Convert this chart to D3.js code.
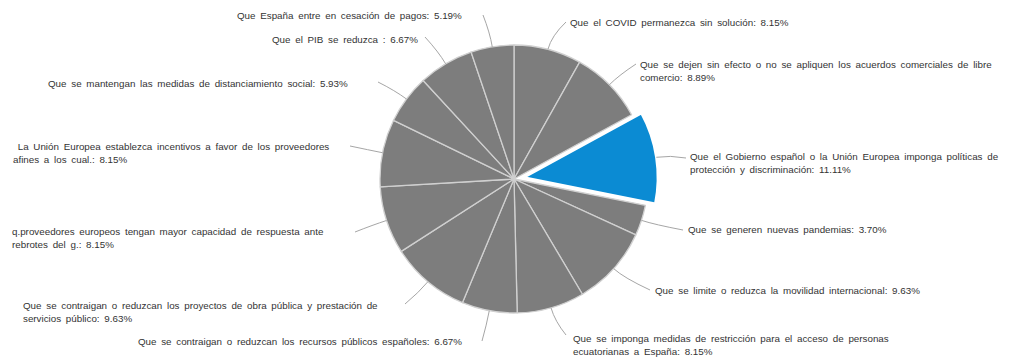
<!DOCTYPE html>
<html><head><meta charset="utf-8">
<script src="https://cdn.jsdelivr.net/npm/d3@7"></script>
<style>body{margin:0;background:#fff}svg{display:block}</style>
</head><body>
<svg id="c" width="1011" height="358"></svg>
<script>
// Data
const categories = [
  ["Que el COVID permanezca sin solución"],
  ["Que se dejen sin efecto o no se apliquen los acuerdos comerciales de libre", "comercio"],
  ["Que el Gobierno español o la Unión Europea imponga políticas de", "protección y discriminación"],
  ["Que se generen nuevas pandemias"],
  ["Que se limite o reduzca la movilidad internacional"],
  ["Que se imponga medidas de restricción para el acceso de personas", "ecuatorianas a España"],
  ["Que se contraigan o reduzcan los recursos públicos españoles"],
  ["Que se contraigan o reduzcan los proyectos de obra pública y prestación de", "servicios público"],
  ["q.proveedores europeos tengan mayor capacidad de respuesta ante", "rebrotes del g."],
  [" La Unión Europea establezca incentivos a favor de los proveedores", "afines a los cual."],
  ["Que se mantengan las medidas de distanciamiento social"],
  ["Que el PIB se reduzca "],
  ["Que España entre en cesación de pagos"]
];
const values = [8.15, 8.89, 11.11, 3.70, 9.63, 8.15, 6.67, 9.63, 8.15, 8.15, 5.93, 6.67, 5.19];
const highlighted = 2;

// Layout (label placement)
const labelLayout = [
  {x:570, y:26, anchor:"start", lx:566, ly:22},
  {x:640, y:68, anchor:"start", lx:636, ly:64},
  {x:690, y:160, anchor:"start", lx:686, ly:158},
  {x:688, y:233, anchor:"start", lx:683, ly:230},
  {x:655, y:294, anchor:"start", lx:650, ly:290},
  {x:573, y:342, anchor:"start", lx:566, ly:335},
  {x:462, y:345, anchor:"end", lx:482, ly:341},
  {x:23, y:309, anchor:"start", lx:405, ly:304},
  {x:12, y:235, anchor:"start", lx:355, ly:232},
  {x:13, y:150, anchor:"start", lx:350, ly:146},
  {x:48, y:87, anchor:"start", lx:378, ly:82},
  {x:272, y:43, anchor:"start", lx:425, ly:37},
  {x:237, y:19, anchor:"start", lx:483, ly:15}
];

const svg = d3.select("#c");
const cx = 514, cy = 179, R = 134, explode = 10;
const pie = d3.pie().sort(null).value(d => d)(values);
const arc = d3.arc().innerRadius(0).outerRadius(R);
const g = svg.append("g").attr("transform", `translate(${cx},${cy})`);

pie.forEach((p, i) => {
  const mid = (p.startAngle + p.endAngle) / 2;
  const off = i === highlighted ? explode : 0;
  const dx = Math.sin(mid) * off, dy = -Math.cos(mid) * off;
  g.append("path")
    .attr("d", arc(p))
    .attr("transform", `translate(${dx},${dy})`)
    .attr("fill", i === highlighted ? "#0b8bd3" : "#7d7d7d")
    .attr("stroke", i === highlighted ? "#ffffff" : "#d0d0d0")
    .attr("stroke-width", i === highlighted ? 2.5 : 1.3)
    .attr("stroke-linejoin", "round");
});

// leader lines
pie.forEach((p, i) => {
  const mid = (p.startAngle + p.endAngle) / 2;
  const off = i === highlighted ? explode : 0;
  const r0 = R + off;
  const x0 = cx + Math.sin(mid) * r0, y0 = cy - Math.cos(mid) * r0;
  const x1 = cx + Math.sin(mid) * (r0 + 14), y1 = cy - Math.cos(mid) * (r0 + 14);
  const L = labelLayout[i];
  svg.append("path")
    .attr("d", `M${x0},${y0} Q${x1},${y1} ${L.lx},${L.ly}`)
    .attr("fill", "none")
    .attr("stroke", "#a6a6a6")
    .attr("stroke-width", 1);
});

// labels
categories.forEach((lines, i) => {
  const L = labelLayout[i];
  const t = svg.append("text")
    .attr("x", L.x).attr("y", L.y)
    .attr("text-anchor", L.anchor)
    .attr("font-family", "Liberation Sans, Arial, sans-serif")
    .attr("font-size", 9.8)
    .attr("word-spacing", 2)
    .attr("fill", "#333333")
    .style("white-space", "pre");
  lines.forEach((ln, j) => {
    const txt = j === lines.length - 1 ? `${ln}: ${values[i].toFixed(2)}%` : ln;
    t.append("tspan").attr("x", L.x).attr("dy", j === 0 ? 0 : 13).text(txt);
  });
});
</script>
</body></html>
